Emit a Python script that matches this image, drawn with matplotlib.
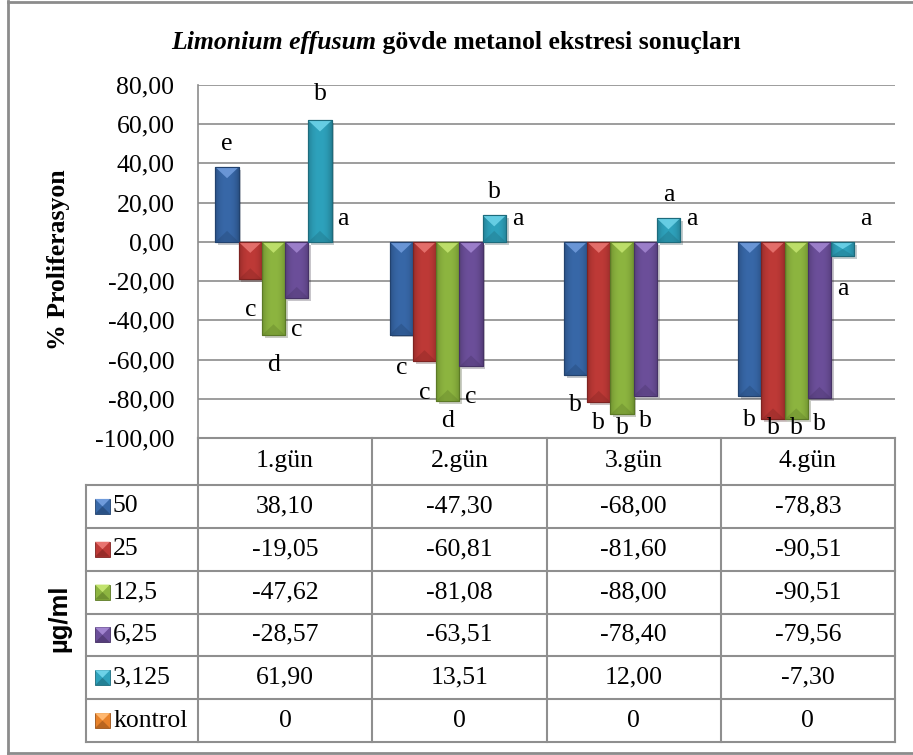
import numpy as np
import matplotlib.pyplot as plt
import matplotlib.patheffects as pe
from matplotlib.patches import Polygon, Rectangle
from matplotlib.colors import to_rgb
from matplotlib.ticker import FuncFormatter

plt.rcParams['font.family'] = ['Liberation Serif', 'DejaVu Serif']

days = ['1.gün', '2.gün', '3.gün', '4.gün']
doses = ['50', '25', '12,5', '6,25', '3,125', 'kontrol']
v50 = [38.10, -47.30, -68.00, -78.83]
v25 = [-19.05, -60.81, -81.60, -90.51]
v12_5 = [-47.62, -81.08, -88.00, -90.51]
v6_25 = [-28.57, -63.51, -78.40, -79.56]
v3_125 = [61.90, 13.51, 12.00, -7.30]
kontrol = [0, 0, 0, 0]
series = [v50, v25, v12_5, v6_25, v3_125, kontrol]

# significance letters, one list per dose
letters = [['e', 'c', 'b', 'b'],
           ['c', 'c', 'b', 'b'],
           ['d', 'd', 'b', 'b'],
           ['c', 'c', 'b', 'b'],
           ['b', 'b', 'a', 'a'],
           ['a', 'a', 'a', 'a']]
# vertical offset of each letter from the bar end, in pixels
letter_dy = [[23, -33, -30, -24],
             [-31, -32, -21, -9],
             [-30, -20, -14, -9],
             [-32, -31, -25, -26],
             [26, 23, 23, -33],
             [23, 23, 23, 23]]

base = ['#3868A8', '#BE3A37', '#8DB540', '#6C4F9A', '#2EA2BC', '#E8822A']
light = ['#6F9BDB', '#E87470', '#C2E36E', '#A184CF', '#6CD2E8', '#FFB870']
dark = ['#22426E', '#7E2321', '#5C7A26', '#463266', '#1D6B7C', '#9A5218']

W, H = 913, 755
fig = plt.figure(figsize=(W / 100, H / 100), dpi=100)

# pixel layout of the plot area
L, R, T, B = 198, 895, 85, 438
ax = fig.add_axes([L / W, 1 - B / H, (R - L) / W, (B - T) / H])

FS = 18.5
grid_c = '#8C8C8C'
nser = len(series)
bw = 1 / 7.5
ax.yaxis.grid(True, color=grid_c, lw=1.2)
ax.set_axisbelow(True)
for s in ['top', 'right']:
    ax.spines[s].set_visible(False)
ax.spines['left'].set_color(grid_c)
ax.spines['left'].set_linewidth(1.2)
ax.spines['bottom'].set_color(grid_c)
ax.spines['bottom'].set_linewidth(1.4)

upp = 180 / (B - T)  # data units per pixel
tri = 11 * upp
t = np.linspace(0, 1, 40)
prof = 1 - np.abs(2 * t - 1) ** 2.5
x0 = np.arange(len(days)) - 0.5
for s, vals in enumerate(series):
    xs = x0 + (1.25 + s) * bw
    bars = ax.bar(xs, vals, bw, color=base[s], edgecolor=dark[s],
                  lw=0.8 if any(vals) else 0, zorder=3)
    c_mid = np.array(to_rgb(base[s]))
    c_edge = np.array(to_rgb(dark[s]))
    grad = (c_edge[None, :] * (1 - prof[:, None]) * 0.6
            + c_mid[None, :] * (0.4 + 0.6 * prof[:, None]))[None, :, :]
    for b in bars:
        b.set_path_effects([pe.SimplePatchShadow(offset=(2, -2), alpha=0.25), pe.Normal()])
    for g, (x, v) in enumerate(zip(xs, vals)):
        if v != 0:
            top = max(v, 0)
            bot = min(v, 0)
            im = ax.imshow(np.clip(grad, 0, 1), extent=[x - bw / 2, x + bw / 2, bot, top],
                           aspect='auto', zorder=3.5, interpolation='bilinear')
            im.set_clip_path(bars[g])
            h = min(tri, abs(v) / 2)
            ax.add_patch(Polygon([[x - bw / 2, top], [x + bw / 2, top], [x, top - h]],
                                 closed=True, fc=light[s], ec='none', zorder=4, alpha=0.9))
            ax.add_patch(Polygon([[x - bw / 2, bot], [x + bw / 2, bot], [x, bot + h]],
                                 closed=True, fc=dark[s], ec='none', zorder=4, alpha=0.35))
            ax.add_patch(Rectangle((x - bw / 2, bot), bw, top - bot, fc='none',
                                   ec=dark[s], lw=0.8, zorder=4.5))
        ax.annotate(letters[s][g], (x, v), xytext=(0, letter_dy[s][g]),
                    textcoords='offset pixels', ha='center', va='center',
                    fontsize=FS, zorder=5, annotation_clip=False)

ax.set_xlim(-0.5, len(days) - 0.5)
ax.set_ylim(-100, 80)
ax.set_yticks(np.arange(-100, 81, 20))
ax.yaxis.set_major_formatter(FuncFormatter(lambda v, p: f'{v:.2f}'.replace('.', ',')))
ax.tick_params(axis='y', length=0, pad=17, labelsize=FS)
ax.set_xticks([])

# overlay in pixel coordinates for the data table and border
ov = fig.add_axes([0, 0, 1, 1], facecolor='none')
ov.set_xlim(0, W)
ov.set_ylim(H, 0)
ov.axis('off')

tc = '#8F8F8F'
col_x = np.linspace(L, R, len(days) + 1)
head_b = 485
row_y = np.linspace(head_b, 742, nser + 1)
leg_l = 86
ov.plot([L, R], [B, B], color=tc, lw=1.5)
for y in row_y:
    ov.plot([leg_l, R], [y, y], color=tc, lw=1.5)
ov.plot([leg_l, leg_l], [head_b, row_y[-1]], color=tc, lw=1.5)
for x in col_x:
    ov.plot([x, x], [B, row_y[-1]], color=tc, lw=1.5)

for g, d in enumerate(days):
    ov.text((col_x[g] + col_x[g + 1]) / 2, (B + head_b) / 2, d,
            ha='center', va='center', fontsize=FS)

for s, vals in enumerate(series):
    yc = (row_y[s] + row_y[s + 1]) / 2
    # legend key with pyramid look
    kx, ky, ks = 95, yc - 7.5, 15
    ov.add_patch(Rectangle((kx, ky), ks, ks, fc=base[s], ec=dark[s], lw=0.6))
    ov.add_patch(Polygon([[kx, ky], [kx + ks, ky], [kx + ks / 2, ky + ks / 2]],
                         fc=light[s], ec='none'))
    ov.add_patch(Polygon([[kx, ky + ks], [kx + ks, ky + ks], [kx + ks / 2, ky + ks / 2]],
                         fc=dark[s], ec='none', alpha=0.6))
    ov.text(113, yc, doses[s], ha='left', va='center', fontsize=FS)
    for g, v in enumerate(vals):
        txt = f'{v:.2f}'.replace('.', ',') if isinstance(v, float) else str(v)
        ov.text((col_x[g] + col_x[g + 1]) / 2, yc, txt,
                ha='center', va='center', fontsize=FS)

# axis titles
ov.text(59, 260, '% Proliferasyon', rotation=90, ha='center', va='center',
        fontsize=FS, fontweight='bold')
ov.text(59, 618, 'µg/ml', rotation=90, ha='center', va='center',
        fontsize=FS, fontweight='bold', family=['Liberation Sans', 'DejaVu Sans'])

# chart title: italic species name followed by bold text
t1 = ov.text(0, 42, 'Limonium effusum', ha='left', va='center', fontsize=FS,
             fontweight='bold', style='italic')
t2 = ov.text(0, 42, ' gövde metanol ekstresi sonuçları', ha='left', va='center',
             fontsize=FS, fontweight='bold')
r = fig.canvas.get_renderer()
w1 = t1.get_window_extent(r).width
w2 = t2.get_window_extent(r).width
start = 456 - (w1 + w2) / 2
t1.set_x(start)
t2.set_x(start + w1)

# chart border
ov.plot([8, 8], [1, 753], color='#8C8C8C', lw=2)
ov.plot([8, W], [1.5, 1.5], color='#8C8C8C', lw=2)
ov.plot([8, W], [753, 753], color='#8C8C8C', lw=2)

fig.savefig('out.png', dpi=100)
